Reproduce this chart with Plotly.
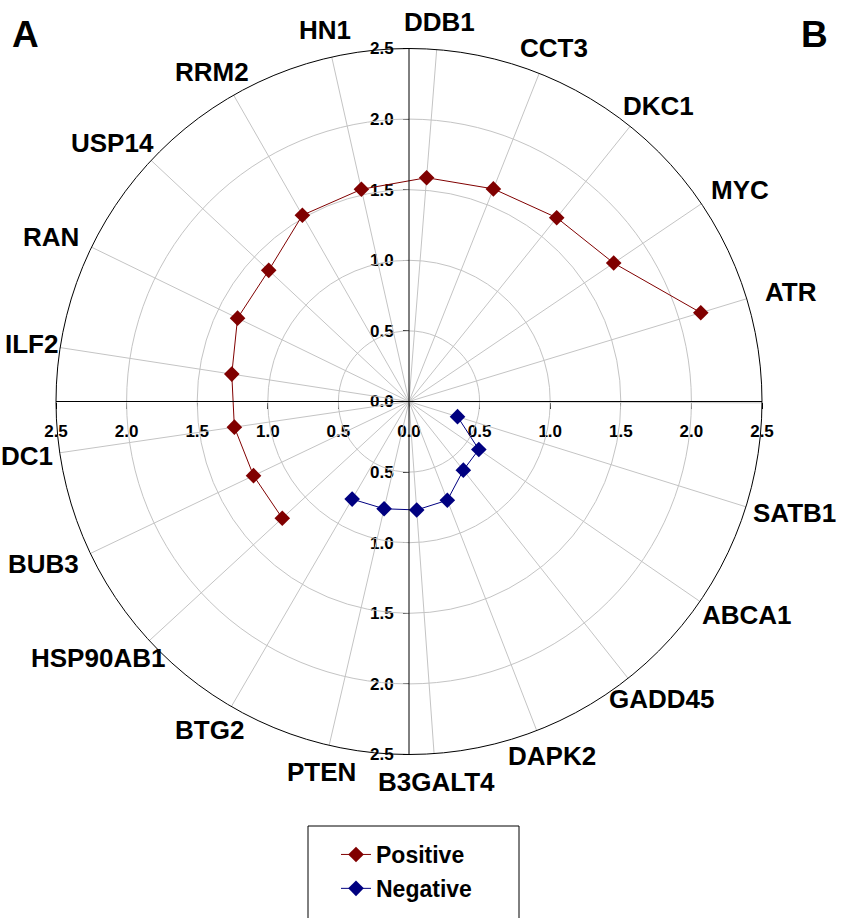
import math
import plotly.graph_objects as go

# Gene categories, clockwise from the top spoke
genes = ["DDB1", "CCT3", "DKC1", "MYC", "ATR", "", "SATB1", "ABCA1", "GADD45",
         "DAPK2", "B3GALT4", "PTEN", "BTG2", "HSP90AB1", "BUB3", "DC1", "ILF2",
         "RAN", "USP14", "RRM2", "HN1"]

# Correlation magnitude per gene (None = not in that group)
positive = [1.59, 1.62, 1.67, 1.75, 2.16, None, None, None, None, None, None,
            None, None, 1.22, 1.22, 1.25, 1.27, 1.35, 1.36, 1.52, 1.54]
negative = [None, None, None, None, None, None, 0.36, 0.60, 0.62, 0.75, 0.77,
            0.78, 0.80, None, None, None, None, None, None, None, None]

radial_grid = [0.5, 1.0, 1.5, 2.0, 2.5]
axis_ticks = [-2.5, -2.0, -1.5, -1.0, -0.5, 0.0, 0.5, 1.0, 1.5, 2.0, 2.5]
axis_labels = [f"{abs(v):.1f}" for v in axis_ticks]

n = len(genes)
theta = [i * 360.0 / n for i in range(n)]
ROTATION = 85.5                       # first spoke sits just right of north

W, H = 842, 918


def px_x(x):
    return x / W


def px_y(y):
    return 1 - y / H


cx, cy, rad = 409, 401.5, 353          # pixel centre / radius of the chart
xdom = [px_x(cx - rad), px_x(cx + rad)]
ydom = [px_y(cy + rad), px_y(cy - rad)]

FONT = "Liberation Sans, Arial"
LABEL_SIZE = 26


def ordered(values):
    """Start the run just after the gap so the line wraps around the top."""
    start = next(i for i in range(n)
                 if values[i] is not None and values[i - 1] is None)
    idx = [(start + k) % n for k in range(n)]
    idx = [i for i in idx if values[i] is not None]
    return [values[i] for i in idx], [theta[i] for i in idx]


def text_width(s, size):
    w = 0.0
    for ch in s:
        if ch.isdigit():
            w += 0.556
        elif ch == "I":
            w += 0.278
        elif ch == "M":
            w += 0.833
        else:
            w += 0.70
    return w * size


fig = go.Figure()

for name, vals, col in [("Positive", positive, "#800000"),
                        ("Negative", negative, "#000080")]:
    r, t = ordered(vals)
    fig.add_trace(go.Scatterpolar(
        r=r, theta=t, name=name, mode="lines+markers", legendgroup=name,
        line=dict(color=col, width=1),
        marker=dict(symbol="diamond", size=12, color=col),
    ))

# helper trace so the centred cartesian axes are rendered
fig.add_trace(go.Scatter(x=[axis_ticks[0], axis_ticks[-1]],
                         y=[axis_ticks[0], axis_ticks[-1]],
                         mode="markers", marker=dict(opacity=0),
                         showlegend=False, hoverinfo="skip"))

# gene labels around the rim, pushed outward along each spoke and kept
# inside the page
annotations = []
for i, g in enumerate(genes):
    if not g:
        continue
    a = math.radians(theta[i] + (90 - ROTATION))
    ux, uy = math.sin(a), -math.cos(a)          # screen direction (y down)
    w = text_width(g, LABEL_SIZE)
    d = rad + 20 + 8 * abs(uy)
    lx = cx + d * ux + 0.45 * w * ux * abs(ux)
    lx = max(w / 2 + 2, min(W - w / 2 - 4, lx))
    ly = cy + d * uy
    annotations.append(dict(
        text=g, xref="paper", yref="paper", x=px_x(lx), y=px_y(ly),
        xanchor="center", yanchor="middle", showarrow=False,
        font=dict(family=FONT, size=LABEL_SIZE, color="black", weight="bold"),
    ))

for txt, xpos, anchor in [("A", 10, "left"), ("B", 830, "right")]:
    annotations.append(dict(
        text=txt, xref="paper", yref="paper", x=px_x(xpos), y=px_y(12),
        xanchor=anchor, yanchor="top", showarrow=False,
        font=dict(family=FONT, size=37, color="black", weight="bold"),
    ))

tick_font = dict(family=FONT, size=17, color="black", weight="bold")

fig.update_layout(
    template="none",
    width=W, height=H, autosize=False,
    margin=dict(l=0, r=0, t=0, b=0, pad=0, autoexpand=False),
    paper_bgcolor="white", plot_bgcolor="rgba(0,0,0,0)",
    polar=dict(
        domain=dict(x=xdom, y=ydom),
        bgcolor="rgba(0,0,0,0)",
        angularaxis=dict(
            direction="clockwise", rotation=ROTATION, thetaunit="degrees",
            tickmode="array", tickvals=theta, showticklabels=False,
            ticks="", showline=True, linecolor="black", linewidth=1,
            gridcolor="#c4c4c4", gridwidth=1,
        ),
        radialaxis=dict(
            range=[0, radial_grid[-1]], tickvals=radial_grid,
            showticklabels=False, ticks="", showline=False,
            gridcolor="#c4c4c4", gridwidth=1,
        ),
    ),
    xaxis=dict(
        domain=xdom, range=[axis_ticks[0], axis_ticks[-1]],
        anchor="free", position=px_y(cy), side="bottom", automargin=False,
        tickmode="array", tickvals=axis_ticks, ticktext=axis_labels,
        ticks="outside", ticklen=6, tickcolor="black", ticklabelstandoff=8,
        showline=False, showgrid=False, zeroline=False,
        tickfont=tick_font, fixedrange=True,
    ),
    yaxis=dict(
        domain=ydom, range=[axis_ticks[0], axis_ticks[-1]],
        anchor="free", position=px_x(cx), side="left", automargin=False,
        tickmode="array", tickvals=axis_ticks, ticktext=axis_labels,
        ticks="outside", ticklen=6, tickcolor="black", ticklabelstandoff=6,
        showline=False, showgrid=False, zeroline=False,
        tickfont=tick_font, fixedrange=True,
    ),
    showlegend=True,
    legend=dict(
        x=px_x(336), y=px_y(833), xanchor="left", yanchor="top",
        bgcolor="rgba(0,0,0,0)", borderwidth=0,
        traceorder="grouped", tracegroupgap=1,
        font=dict(family=FONT, size=23, color="black", weight="bold"),
    ),
    shapes=[
        # centred axis lines
        dict(type="line", xref="x", yref="y", layer="above",
             x0=axis_ticks[0], x1=axis_ticks[-1], y0=0, y1=0,
             line=dict(color="black", width=1)),
        dict(type="line", xref="x", yref="y", layer="above",
             x0=0, x1=0, y0=axis_ticks[0], y1=axis_ticks[-1],
             line=dict(color="black", width=1)),
        # legend frame, open at the bottom edge
        dict(type="rect", xref="paper", yref="paper",
             x0=px_x(308), x1=px_x(519), y0=px_y(H + 10), y1=px_y(826),
             line=dict(color="black", width=1)),
    ],
    annotations=annotations,
)

fig.write_html("out.html")
